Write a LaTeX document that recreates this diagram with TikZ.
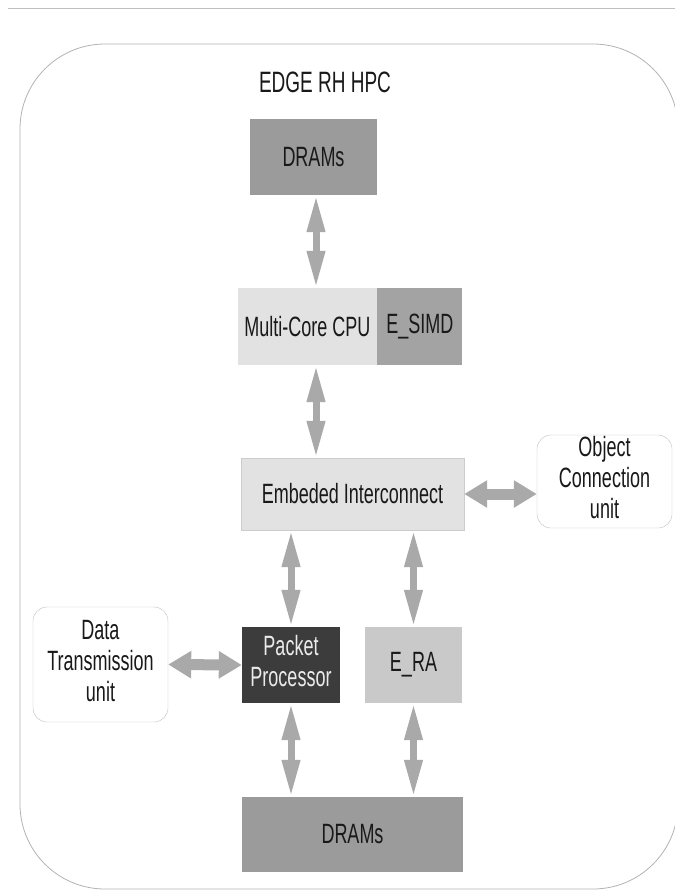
\documentclass[tikz,border=0pt]{standalone}
\usepackage{fontspec}
\setmainfont{Liberation Sans}
\usepackage{graphicx}
\usetikzlibrary{arrows.meta}
\usetikzlibrary{positioning}

% text in the picture is drawn tall and narrow
\newcommand{\tall}[1]{\scalebox{1}[1.55]{#1}}

\begin{document}
\begin{tikzpicture}[x=1pt,y=-1pt,
    box/.style={rectangle, inner sep=0pt, text=black!90,
      font=\fontsize{18}{20}\selectfont},
    unitbox/.style={box, draw=black!25, rounded corners=14pt, fill=white},
    varrow/.style={draw=arr, line width=7pt,
      {Triangle[length=37pt,width=17pt]}-{Triangle[length=37pt,width=17pt]}},
    harrow/.style={draw=arr, line width=11pt,
      {Triangle[length=23pt,width=26pt]}-{Triangle[length=23pt,width=26pt]}}]
      \definecolor{arr}{HTML}{A9A9A9}
      \definecolor{dram}{HTML}{9B9B9B}
      \definecolor{light}{HTML}{E2E2E2}
      \definecolor{simd}{HTML}{A3A3A3}
      \definecolor{pkt}{HTML}{3C3C3C}
      \definecolor{era}{HTML}{C9C9C9}
      \useasboundingbox (0,0) rectangle (675,892);
      \draw[black!25, line width=0.8pt] (8,8) -- (675,8);
      \draw[black!30, line width=0.8pt, rounded corners=85pt] (20,44) rectangle (678,889);
      \node[box, font=\fontsize{19}{21}\selectfont] (title) at (325,82) {\tall{EDGE RH HPC}};
      % boxes
      \node[box, fill=dram, minimum width=127pt, minimum height=76pt] (dramtop) at (313.5,157) {\tall{DRAMs}};
      \node[box, fill=light, minimum width=139pt, minimum height=77pt] (cpu) at (307.5,326.5) {\tall{Multi-Core CPU}};
      \node[box, fill=simd, minimum width=85pt, minimum height=77pt, right=0pt of cpu] (simd) {\tall{E\_SIMD}};
      \node[box, fill=light, draw=black!20, minimum width=223pt, minimum height=72pt] (ic) at (352.5,494) {\tall{Embeded Interconnect}};
      \node[unitbox, minimum width=135pt, minimum height=85pt, align=center] (ocu) at (604.5,481.5)
        {\tall{\begin{tabular}{@{}c@{}}Object\\Connection\\unit\end{tabular}}};
      \node[unitbox, minimum width=135pt, minimum height=115pt] (dtu) at (100.5,664.5)
        {\tall{\begin{tabular}{@{}c@{}}Data\\Transmission\\unit\end{tabular}}};
      \node[box, fill=pkt, text=black!8, minimum width=98pt, minimum height=76pt] (pp) at (291,665)
        {\tall{\begin{tabular}{@{}c@{}}Packet\\Processor\end{tabular}}};
      \node[box, fill=era, minimum width=97pt, minimum height=76pt] (era) at (413.5,665) {\tall{E\_RA}};
      \node[box, fill=dram, minimum width=221pt, minimum height=75pt] (drambot) at (352.5,834.5) {\tall{DRAMs}};
      % links
      \draw[varrow] (dramtop.south -| 316,0) -- (cpu.north -| 316,0);
      \draw[varrow] (cpu.south -| 316,0) -- (ic.north -| 316,0);
      \draw[varrow] (ic.south -| pp) -- (pp.north);
      \draw[varrow] (ic.south -| era) -- (era.north);
      \draw[varrow] (pp.south) -- (drambot.north -| pp);
      \draw[varrow] (era.south) -- (drambot.north -| era);
      \draw[harrow] (ic.east) -- (ocu.west |- ic.east);
      \draw[harrow] (dtu.east) -- (pp.west);
    \end{tikzpicture}
\end{document}
